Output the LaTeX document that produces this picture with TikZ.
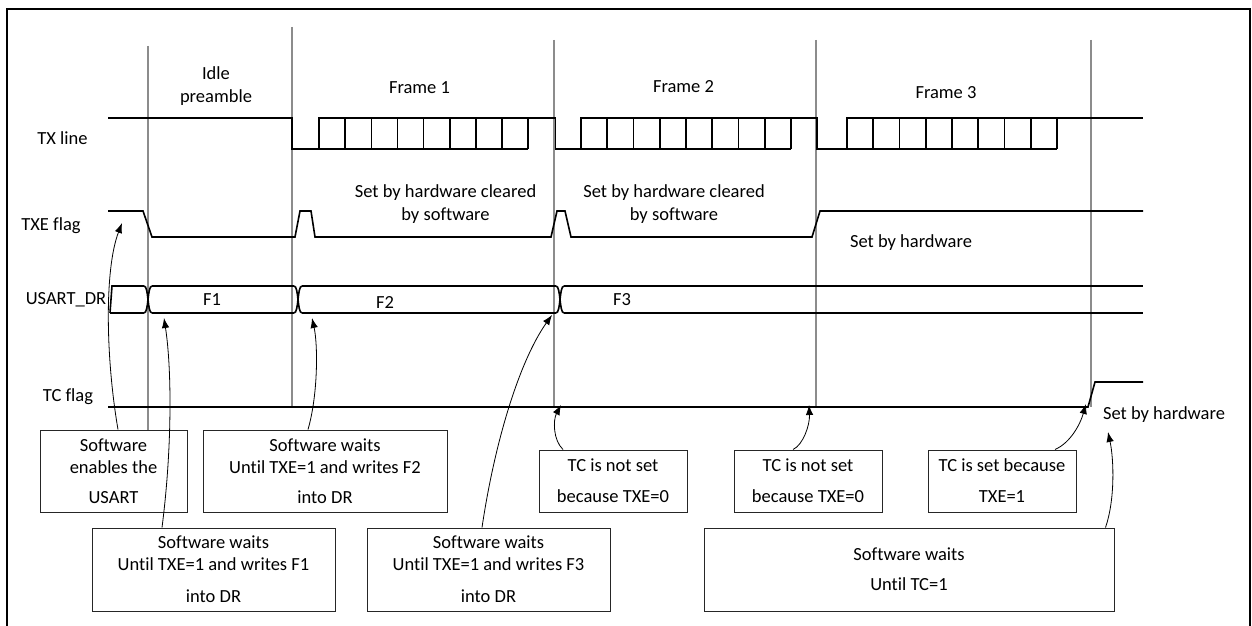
\documentclass[tikz,border=0pt]{standalone}
\usepackage{fontspec}
\setmainfont{Carlito}[Ligatures=NoCommon]
\usetikzlibrary{arrows.meta}
\begin{document}
\begin{tikzpicture}[x=1pt,y=-1pt,
  sig/.style={line width=1.6pt, black, line join=miter},
  vline/.style={line width=1.3pt, black!45},
  box/.style={draw=black!85, line width=1pt, inner sep=0pt, align=center,
    font=\fontsize{18.5}{22}\selectfont},
  lbl/.style={inner sep=0pt, align=center, font=\fontsize{18.5}{23}\selectfont},
  arr/.style={-{Latex[length=10pt,width=7.5pt]}, line width=0.8pt},
  xcross/.pic={
    \draw[sig] (-4,-13.5) .. controls (1,-13.5) and (-1,13.5) .. (4,13.5);
    \draw[sig] (-4,13.5) .. controls (1,13.5) and (-1,-13.5) .. (4,-13.5);
  }
]
\useasboundingbox (0,0) rectangle (1252,626);
\draw[line width=2pt] (7,9) rectangle (1250,640);

% vertical time markers
\draw[vline] (148,46) -- (148,430);
\draw[vline] (292,27) -- (292,407);
\draw[vline] (554,40) -- (554,407);
\draw[vline] (816,40) -- (816,407);
\draw[vline] (1091,40) -- (1091,407);

% signal names
\node[lbl] (ntx)  at (62.5,138) {TX line};
\node[lbl] (ntxe) at (51,226)   {TXE flag};
\node[lbl] (ndr)  at (66,300)   {USART\_DR};
\node[lbl] (ntc)  at (68,397)   {TC flag};

% period labels
\node[lbl] (idle) at (216,86) {Idle\\preamble};
\node[lbl] (fr1) at (419.5,88) {Frame 1};
\node[lbl] (fr2) at (683.5,87) {Frame 2};
\node[lbl] (fr3) at (946,93) {Frame 3};

% TX line
\draw[sig] (108,118) -- (292,118) -- (292,149) -- (528,149);
\draw[sig] (319,149) -- (319,118) -- (554,118) -- (555.5,118) -- (555.5,149) -- (791,149);
\draw[sig] (581,149) -- (581,118) -- (816,118) -- (817,118) -- (817,149) -- (1057,149);
\draw[sig] (847,149) -- (847,118) -- (1143,118);
\foreach \i in {1,...,8} {
  \draw[sig] ({319+\i*26.16},118) -- ({319+\i*26.16},149);
  \draw[sig] ({581+\i*26.25},118) -- ({581+\i*26.25},149);
  \draw[sig] ({847+\i*26.25},118) -- ({847+\i*26.25},149);
}

% TXE flag
\draw[sig] (108,211) -- (143,211) -- (152,237) -- (295,237) -- (300,211) -- (311,211)
  -- (315,237) -- (551,237) -- (557,211) -- (565,211) -- (571,237) -- (812,237)
  -- (820,211) -- (1143,211);
\node[lbl] (sh1) at (445.5,204) {Set by hardware cleared\\by software};
\node[lbl] (sh2) at (674,204) {Set by hardware cleared\\by software};
\node[lbl] (sh3) at (911,243) {Set by hardware};

% USART_DR
\draw[sig] (110,313) -- (112,286) -- (144,286);
\draw[sig] (110,313) -- (144,313);
\draw[sig] (152,286) -- (294,286);
\draw[sig] (152,313) -- (294,313);
\draw[sig] (302,286) -- (556,286);
\draw[sig] (302,313) -- (556,313);
\draw[sig] (564,286) -- (1143,286);
\draw[sig] (564,313) -- (1143,313);
\pic at (148,299.5) {xcross};
\pic at (298,299.5) {xcross};
\pic at (560,299.5) {xcross};
\node[lbl] (f1) at (212,300) {F1};
\node[lbl] (f2) at (385,302) {F2};
\node[lbl] (f3) at (622,300) {F3};

% TC flag
\draw[sig] (108,407) -- (1088,407) -- (1095,382) -- (1143,382);
\node[lbl] (sh4) at (1164,415) {Set by hardware};

% boxes
\node[box, minimum width=147, minimum height=82] (b1) at (113.5,471)
  {Software\\enables the\\[8pt]USART};
\node[box, minimum width=244, minimum height=82] (b2) at (325,471)
  {Software waits\\Until TXE=1 and writes F2\\[8pt]into DR};
\node[box, minimum width=243, minimum height=83] (b3) at (213.5,569.5)
  {Software waits\\Until TXE=1 and writes F1\\[10pt]into DR};
\node[box, minimum width=243, minimum height=83] (b4) at (488.5,569.5)
  {Software waits\\Until TXE=1 and writes F3\\[10pt]into DR};
\node[box, minimum width=148, minimum height=62] (b5) at (613,481)
  {TC is not set\\[9pt]because TXE=0};
\node[box, minimum width=148, minimum height=62] (b6) at (808,481)
  {TC is not set\\[9pt]because TXE=0};
\node[box, minimum width=148, minimum height=62] (b7) at (1002,481)
  {TC is set because\\[9pt]TXE=1};
\node[box, minimum width=410, minimum height=83] (b8) at (909,569.5)
  {Software waits\\[8pt]Until TC=1};

% arrow targets
\coordinate (tA) at (122,223);
\coordinate (tB) at (164,318);
\coordinate (tC) at (312,318);
\coordinate (tD) at (552,315);
\coordinate (tE) at (561,405);
\coordinate (tF) at (809,405);
\coordinate (tG) at (1086,404);
\coordinate (tH) at (1108,432);

% arrows
\draw[arr] ([xshift=4.5pt]b1.north) .. controls (106,360) and (104,270) .. (tA);
\draw[arr] ([xshift=-51.5pt]b3.north) .. controls (172,450) and (172,370) .. (tB);
\draw[arr] ([xshift=-17pt]b2.north) .. controls (318,395) and (318,345) .. (tC);
\draw[arr] ([xshift=-6.5pt]b4.north) .. controls (495,440) and (520,360) .. (tD);
\draw[arr] ([xshift=-50pt]b5.north) .. controls (553,440) and (553,420) .. (tE);
\draw[arr] ([xshift=-15pt]b6.north) .. controls (803,445) and (810,425) .. (tF);
\draw[arr] ([xshift=53pt]b7.north) .. controls (1070,443) and (1080,425) .. (tG);
\draw[arr] ([xshift=-9pt]b8.north east) .. controls (1115,500) and (1114,460) .. (tH);
\end{tikzpicture}
\end{document}
